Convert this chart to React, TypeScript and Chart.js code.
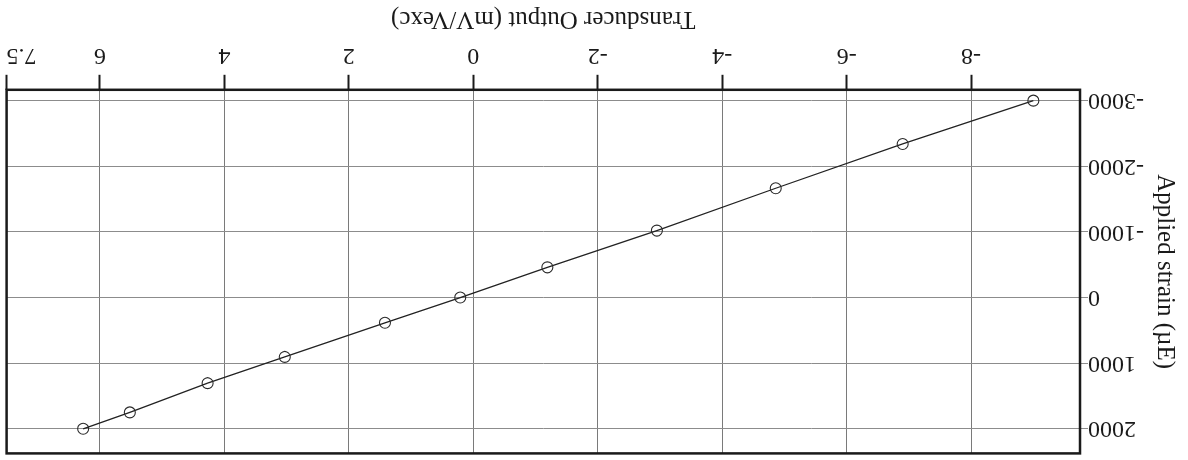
import React, { useEffect, useRef } from "react";
import { Chart, registerables } from "chart.js";

Chart.register(...registerables);

// Transducer output (mV/Vexc) vs applied strain (µE)
const outputMv: number[] = [-9.0, -6.9, -4.86, -2.95, -1.19, 0.21, 1.42, 3.03, 4.27, 5.52, 6.27];
const strainUe: number[] = [-3000, -2340, -1665, -1020, -460, 0, 385, 905, 1305, 1750, 2000];

const xTickValues: number[] = [-9.75, -8, -6, -4, -2, 0, 2, 4, 6, 7.5];
const yTickValues: number[] = [-3000, -2000, -1000, 0, 1000, 2000];
const xMin = -9.75;
const xMax = 7.5;
const yMin = -3165;
const yMax = 2375;

const xTitle = "Transducer Output (mV/Vexc)";
const yTitle = "Applied strain (µE)";

const FONT = '"Liberation Serif", "Times New Roman", Times, serif';

const framePlugin = {
  id: "frame",
  afterDatasetsDraw(chart: any) {
    const { ctx, chartArea } = chart;
    ctx.save();
    ctx.strokeStyle = "#1a1a1a";
    ctx.lineWidth = 2.5;
    ctx.strokeRect(chartArea.left, chartArea.top, chartArea.right - chartArea.left, chartArea.bottom - chartArea.top);
    ctx.restore();
  },
};

export default function App() {
  const ref = useRef<HTMLCanvasElement | null>(null);

  useEffect(() => {
    if (!ref.current) return;
    const chart = new Chart(ref.current, {
      type: "scatter",
      data: {
        datasets: [
          {
            data: outputMv.map((x, i) => ({ x, y: strainUe[i] })),
            showLine: true,
            borderColor: "#222",
            borderWidth: 1.3,
            pointRadius: 5.5,
            pointBorderWidth: 1.1,
            pointBorderColor: "#2a2a2a",
            pointBackgroundColor: "rgba(0,0,0,0)",
            tension: 0,
          },
        ],
      },
      options: {
        animation: false,
        responsive: false,
        devicePixelRatio: 1,
        layout: { padding: { left: 2, right: 5, top: 3, bottom: 4 } },
        plugins: { legend: { display: false }, tooltip: { enabled: false } },
        scales: {
          x: {
            type: "linear",
            min: xMin,
            max: xMax,
            afterBuildTicks: (scale: any) => {
              scale.ticks = xTickValues.map((v) => ({ value: v }));
            },
            ticks: {
              align: "inner",
              padding: 5,
              color: "#1a1a1a",
              font: { family: FONT, size: 24 },
              callback: (v: any) => (Number(v) === xMin ? "" : String(v)),
            },
            grid: {
              color: "#7a7a7a",
              lineWidth: 1,
              tickLength: 15,
              tickWidth: 2,
              tickColor: (ctx: any) => (ctx.tick && ctx.tick.value === xMin ? "rgba(0,0,0,0)" : "#1a1a1a"),
            },
            border: { display: false },
            title: {
              display: true,
              text: xTitle,
              color: "#1a1a1a",
              font: { family: FONT, size: 25 },
              padding: { top: 2, bottom: 0 },
            },
          },
          y: {
            type: "linear",
            min: yMin,
            max: yMax,
            afterBuildTicks: (scale: any) => {
              scale.ticks = yTickValues.map((v) => ({ value: v }));
            },
            afterFit: (scale: any) => {
              scale.paddingTop = 0;
              scale.paddingBottom = 0;
            },
            ticks: {
              padding: 0,
              color: "#1a1a1a",
              font: { family: FONT, size: 24 },
              callback: (v: any) => String(v),
            },
            grid: {
              color: "#8c8c8c",
              lineWidth: 1,
              tickLength: 8,
              tickWidth: 1,
              tickColor: "#8c8c8c",
            },
            border: { display: false },
            title: {
              display: true,
              text: yTitle,
              color: "#1a1a1a",
              font: { family: FONT, size: 25 },
              padding: { top: 6, bottom: 6 },
            },
          },
        },
      },
      plugins: [framePlugin],
    } as any);
    return () => chart.destroy();
  }, []);

  return (
    <div
      style={{
        position: "fixed",
        left: 0,
        top: 0,
        width: 1188,
        height: 460,
        background: "#ffffff",
        transform: "rotate(180deg)",
        transformOrigin: "50% 50%",
      }}
    >
      <canvas ref={ref} width={1188} height={460} style={{ display: "block", width: 1188, height: 460 }} />
    </div>
  );
}
